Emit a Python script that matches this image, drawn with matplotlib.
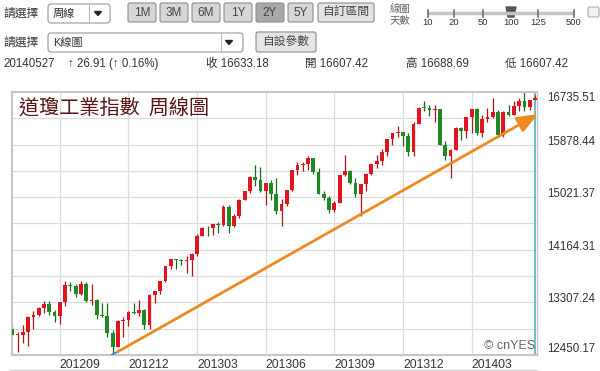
import matplotlib
matplotlib.use("Agg")
import matplotlib.pyplot as plt
from matplotlib.patches import FancyBboxPatch, Polygon
from matplotlib.transforms import blended_transform_factory

plt.rcParams["font.family"] = ["Liberation Sans", "Noto Sans CJK TC", "DejaVu Sans"]

# weekly candles, Jul 2012 .. May 2014 (index = week number)
opens = [
    12879, 12772, 12777, 12823, 13076, 13096, 13208, 13275, 13158, 13091,
    13307, 13593, 13579, 13437, 13610, 13329, 13344, 13107, 13093, 12815,
    12588, 13010, 13026, 13155, 13135, 13191, 12938, 13435, 13488, 13650,
    13896, 14010, 13993, 13982, 14001, 14090, 14397, 14514, 14512, 14579,
    14565, 14865, 14548, 14713, 14974, 15118, 15354, 15303, 15116, 15248,
    15070, 14799, 14910, 15136, 15464, 15544, 15559, 15658, 15426, 15081,
    15011, 14810, 14923, 15376, 15451, 15258, 15073, 15237, 15400, 15570,
    15616, 15762, 15962, 16065, 16086, 16020, 15755, 16221, 16478, 16470,
    16437, 16459, 15879, 15699, 15794, 16154, 16103, 16322, 16453, 16066,
    16303, 16323, 16413, 16027, 16409, 16361, 16513, 16583, 16491, 16607.42,
]
highs = [
    12944, 12820, 12943, 13080, 13170, 13240, 13330, 13330, 13180, 13315,
    13653, 13640, 13600, 13660, 13640, 13600, 13370, 13290, 13290, 12850,
    13020, 13070, 13170, 13300, 13350, 13200, 13440, 13500, 13660, 13900,
    14020, 14020, 14020, 14060, 14110, 14420, 14540, 14550, 14585, 14610,
    14890, 14890, 14750, 14990, 15130, 15370, 15542, 15510, 15250, 15300,
    15340, 15000, 15140, 15470, 15590, 15590, 15700, 15660, 15500, 15130,
    15040, 14960, 15380, 15710, 15460, 15330, 15240, 15420, 15570, 15710,
    15800, 15970, 16070, 16175, 16090, 16060, 16240, 16490, 16588, 16530,
    16530, 16460, 15940, 15800, 16160, 16170, 16330, 16460, 16470, 16360,
    16480, 16630, 16450, 16430, 16530, 16590, 16630, 16735.51, 16610, 16688.69,
]
lows = [
    12750, 12492, 12640, 12590, 12880, 13090, 13140, 13100, 12990, 12960,
    13250, 13500, 13390, 13420, 13320, 13270, 13030, 13070, 12750, 12450.17,
    12580, 12740, 12930, 13120, 13090, 12880, 12880, 13290, 13440, 13640,
    13850, 13850, 13910, 13780, 13730, 14060, 14390, 14390, 14400, 14440,
    14560, 14440, 14530, 14680, 14970, 15090, 15200, 15110, 14890, 14970,
    14750, 14550, 14880, 15130, 15390, 15450, 15470, 15400, 15070, 14980,
    14760, 14780, 14920, 15370, 15230, 15030, 14720, 15130, 15390, 15500,
    15540, 15700, 15870, 16000, 15850, 15700, 15700, 16220, 16420, 16350,
    16250, 15870, 15620, 15340, 15790, 15950, 15990, 16070, 16040, 16000,
    16250, 16320, 16000, 16000, 16340, 16360, 16420, 16420, 16440, 16607.42,
]
closes = [
    12772, 12777, 12823, 13076, 13096, 13208, 13275, 13158, 13091, 13307,
    13593, 13579, 13437, 13610, 13329, 13344, 13107, 13093, 12815, 12588,
    13010, 13026, 13155, 13135, 13191, 12938, 13435, 13488, 13650, 13896,
    14010, 13993, 13982, 14001, 14090, 14397, 14514, 14512, 14579, 14565,
    14865, 14548, 14713, 14974, 15118, 15354, 15303, 15116, 15248, 15070,
    14799, 14910, 15136, 15464, 15544, 15559, 15658, 15426, 15081, 15011,
    14810, 14923, 15376, 15451, 15258, 15073, 15237, 15400, 15570, 15616,
    15762, 15962, 16065, 16086, 16020, 15755, 16221, 16478, 16470, 16437,
    16459, 15879, 15699, 15794, 16154, 16103, 16322, 16453, 16066, 16303,
    16323, 16413, 16027, 16409, 16361, 16513, 16583, 16491, 16606, 16633.18,
]

month_idx = [9, 22, 35, 48, 61, 74, 87]
month_labels = ["201209", "201212", "201303", "201306", "201309", "201312", "201403"]
price_labels = ["16735.51", "15878.44", "15021.37", "14164.31", "13307.24", "12450.17"]

trend_start = (20.0, 12505)
trend_end = (99.6, 16377)

RED, GREEN = "#e0151f", "#1f8a24"
RED_W, GREEN_W = "#b3121b", "#176b1b"

fig = plt.figure(figsize=(6, 3.71), dpi=100)

# ---- page header (pixel coordinates) ----
ui = fig.add_axes([0, 0, 1, 1])
ui.set_xlim(0, 600)
ui.set_ylim(371, 0)
ui.axis("off")

txt = "#333333"


def box(x0, y0, w, h, face, edge="#9a9a9a", r=3):
    ui.add_patch(FancyBboxPatch((x0, y0), w, h, boxstyle=f"round,pad=0,rounding_size={r}",
                                fc=face, ec=edge, lw=0.8))


def arrow_down(x, y):
    ui.add_patch(Polygon([(x - 3.5, y - 2), (x + 3.5, y - 2), (x, y + 2)], closed=True, color="#222"))


# row 1
ui.text(3, 14, "請選擇", fontsize=8.5, color=txt, va="center")
box(48, 4, 62, 19, "white")
ui.plot([89, 89], [4, 23], color="#bbbbbb", lw=0.8)
arrow_down(98, 13.5)
ui.text(53, 14, "周線", fontsize=8, color=txt, va="center")

buttons = [("1M", 128, 156), ("3M", 160, 188), ("6M", 192, 220), ("1Y", 224, 252),
           ("2Y", 256, 284), ("5Y", 288, 313), ("自訂區間", 318, 374)]
for lab, x0, x1 in buttons:
    face = "#a9a9a9" if lab == "2Y" else ("#e4e4e4" if len(lab) > 2 else "#d6d6d6")
    box(x0, 3, x1 - x0, 19, face, edge="#8c8c8c", r=2)
    ui.text((x0 + x1) / 2, 12.5, lab, fontsize=8.5, color="#444", ha="center", va="center")

ui.text(390, 9, "線圖", fontsize=7.5, color="#666", va="center")
ui.text(390, 20.5, "天數", fontsize=7.5, color="#666", va="center")
ui.plot([427, 574], [13, 13], color="#c4c4c4", lw=2.5, solid_capstyle="butt")
for xs, lab in zip([428, 454, 483, 511, 538, 574], ["10", "20", "50", "100", "125", "500"]):
    if lab != "100":
        ui.plot([xs, xs], [10, 17], color="#666", lw=1.1)
    ui.text(xs, 22.5, lab, fontsize=6.8, color=txt, ha="center", va="center")
ui.add_patch(Polygon([(506, 7), (516, 7), (514, 17), (508, 17)], closed=True, color="#555"))
ui.add_patch(FancyBboxPatch((588, 7), 11, 10, boxstyle="round,pad=0,rounding_size=1.5",
                            fc="#f0f0f0", ec="#aaaaaa", lw=0.8))

# row 2
ui.text(3, 43, "請選擇", fontsize=8.5, color=txt, va="center")
box(48, 33, 195, 19, "white")
ui.plot([221, 221], [33, 52], color="#bbbbbb", lw=0.8)
arrow_down(229, 42.5)
ui.text(53, 43, "K線圖", fontsize=8, color=txt, va="center")
box(256, 32, 60, 20, "#e6e6e6", edge="#8c8c8c", r=2)
ui.text(286, 42, "自設參數", fontsize=8.5, color="#444", ha="center", va="center")

# row 3
row3 = [(3, "20140527"), (68, "↑ 26.91 (↑ 0.16%)"), (206, "收 16633.18"),
        (305, "開 16607.42"), (406, "高 16688.69"), (505, "低 16607.42")]
for xs, s in row3:
    ui.text(xs, 64, s, fontsize=8.3, color=txt, va="center")

ui.plot([10, 537], [369.5, 369.5], color="#d2d2d2", lw=1)

# ---- candlestick chart ----
ax = fig.add_axes([12 / 600, 1 - 355 / 371, 525 / 600, 263 / 371])
ymin, ymax = float(price_labels[-1]), float(price_labels[0])
ax.set_xlim(-0.06, 99.38)
ax.set_ylim(ymin, ymax)

step = (ymax - ymin) / 10
for k in range(1, 10):
    ax.axhline(ymin + k * step, color="#dcdcdc", lw=0.9, zorder=0)
for m in month_idx:
    ax.axvline(m, color="#dcdcdc", lw=0.9, zorder=0)

ax.axvline(len(closes) - 1, color="#4fb3cb", lw=1.2, zorder=1)

for i, (o, h, l, c) in enumerate(zip(opens, highs, lows, closes)):
    up = c >= o
    ax.vlines(i, l, h, color=RED_W if up else GREEN_W, lw=0.9, zorder=2)
    ax.bar(i, max(abs(c - o), 14), bottom=min(o, c), width=0.72,
           color=RED if up else GREEN, lw=0, zorder=3)

ax.plot([18.8, trend_start[0]], [12452, trend_start[1]], color="#3c7fd0", lw=1.3, zorder=4)
ax.annotate("", xy=trend_end, xytext=trend_start, annotation_clip=False, zorder=5,
            arrowprops=dict(arrowstyle="-|>,head_length=0.9,head_width=0.35",
                            mutation_scale=14, color="#ee8a22", lw=2, shrinkA=0, shrinkB=0))

ax.text(0.013, 0.977, "道瓊工業指數  周線圖", transform=ax.transAxes, fontsize=14.5,
        color="#5a1414", va="top", ha="left", family=["Noto Sans CJK TC"])
ax.text(0.997, 0.035, "© cnYES", transform=ax.transAxes, fontsize=9, color="#666",
        ha="right", va="center")

ax.set_xticks(month_idx, month_labels, ha="left")
ax.tick_params(axis="x", length=0, pad=3, labelsize=8.7, labelcolor=txt)
ax.set_yticks([])

tr = blended_transform_factory(ax.transAxes, ax.transData)
for j, lab in enumerate(price_labels):
    va = "top" if j == 0 else ("bottom" if j == len(price_labels) - 1 else "baseline")
    ax.text(1 + 10 / 525, float(lab), lab, transform=tr, fontsize=8.3, color=txt,
            ha="left", va=va, clip_on=False)

for side in ["left", "top", "bottom", "right"]:
    ax.spines[side].set_color("#c6c6c6")
    ax.spines[side].set_linewidth(1.5 if side != "right" else 1)

fig.savefig("out.png", dpi=100)
